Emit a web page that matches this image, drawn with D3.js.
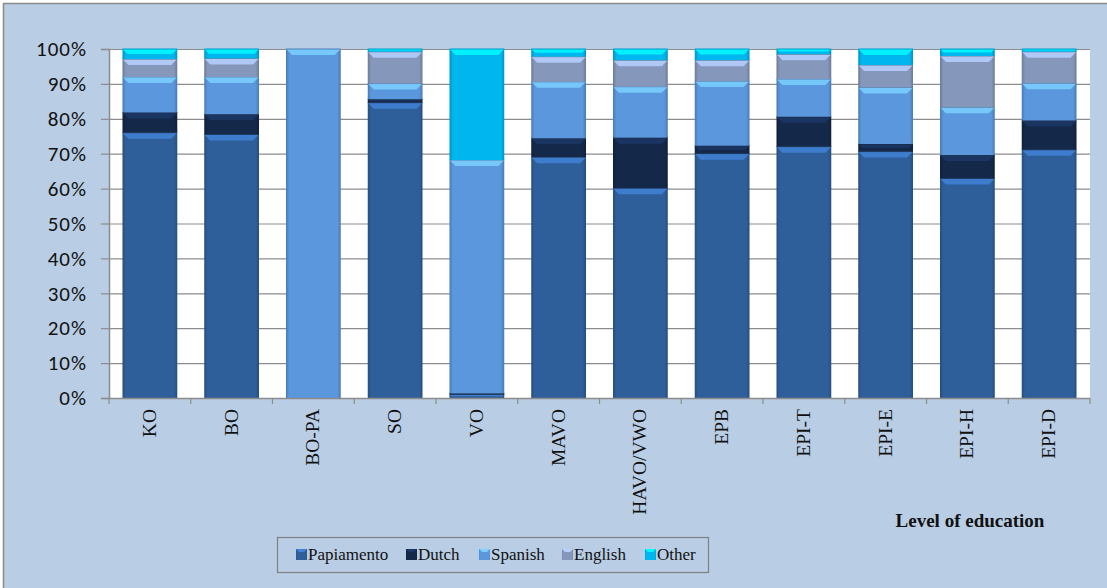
<!DOCTYPE html>
<html>
<head>
<meta charset="utf-8">
<script src="https://cdn.jsdelivr.net/npm/d3@7"></script>
<style>
  body { margin: 0; background: #fff; }
  svg { display: block; }
</style>
</head>
<body>
<div id="chart"></div>
<script>
// Stacked 100% columns: language spoken per level of education

const levels = ["KO", "BO", "BO-PA", "SO", "VO", "MAVO", "HAVO/VWO", "EPB", "EPI-T", "EPI-E", "EPI-H", "EPI-D"];
const languages = ["Papiamento", "Dutch", "Spanish", "English", "Other"];

// percentages per level
const papiamento = [76, 75.5, 0, 84.6, 1, 69, 60.1, 70, 72, 70.6, 62.9, 71.1];
const dutch      = [5.8, 5.8, 0, 1, 0.3, 5.4, 14.5, 2.3, 8.6, 2.2, 6.7, 8.4];
const spanish    = [10.2, 10.7, 100, 4.5, 66.9, 16.2, 14.6, 18.5, 10.8, 16.2, 13.7, 10.7];
const english    = [5.1, 5.3, 0, 9.1, 0, 7.2, 7.6, 6, 7.1, 6.4, 14.7, 9];
const other      = [2.9, 2.7, 0, 0.8, 31.8, 2.2, 3.2, 3.2, 1.5, 4.6, 2, 0.8];

const yTicks = [0, 10, 20, 30, 40, 50, 60, 70, 80, 90, 100];
const colors = ["#2f5f9b", "#14284a", "#5b97dc", "#8597ba", "#00b6ee"];

const W = 1107, H = 588;
const plot = {left: 109, right: 1090, top: 49, bottom: 398};

const svg = d3.select("#chart").append("svg")
    .attr("width", W)
    .attr("height", H);

// chart area background + border
svg.append("rect")
    .attr("x", 3.5).attr("y", 3.5)
    .attr("width", W + 10).attr("height", H + 10)
    .attr("fill", "#b9cde5")
    .attr("stroke", "#8a8a8a")
    .attr("stroke-width", 1.5);

svg.append("rect")
    .attr("x", plot.left).attr("y", plot.top)
    .attr("width", plot.right - plot.left)
    .attr("height", plot.bottom - plot.top)
    .attr("fill", "#ffffff");

// build stacked table
let table = levels.map((lv, i) => ({
    level: lv,
    Papiamento: papiamento[i],
    Dutch: dutch[i],
    Spanish: spanish[i],
    English: english[i],
    Other: other[i]
}));
let series = d3.stack().keys(languages)(table);

let x = d3.scaleBand()
    .domain(levels)
    .range([plot.left, plot.right])
    .paddingInner(0.33)
    .paddingOuter(0.165);
let y = d3.scaleLinear()
    .domain([0, 100])
    .range([plot.bottom, plot.top]);

// gridlines
svg.append("g")
    .attr("class", "grid")
    .selectAll("line")
    .data(yTicks)
    .enter().append("line")
    .attr("x1", plot.left).attr("x2", plot.right)
    .attr("y1", d => y(d) + 0.5).attr("y2", d => y(d) + 0.5)
    .attr("stroke", "#8c8c8c")
    .attr("stroke-width", 1.2);

// gradients for the glossy look
let defs = svg.append("defs");
colors.forEach((c, i) => {
    let g = defs.append("linearGradient")
        .attr("id", "grad" + i)
        .attr("x1", "0").attr("x2", "1").attr("y1", "0").attr("y2", "0");
    let base = d3.color(c);
    g.append("stop").attr("offset", "0%").attr("stop-color", base.darker(0.6));
    g.append("stop").attr("offset", "6%").attr("stop-color", base);
    g.append("stop").attr("offset", "94%").attr("stop-color", base);
    g.append("stop").attr("offset", "100%").attr("stop-color", base.darker(0.6));
});

let bars = svg.append("g").attr("class", "bars");

series.forEach((s, si) => {
    let grp = bars.append("g");
    let segs = s.map((d, i) => ({lo: d[0], hi: d[1], level: levels[i]}))
                .filter(d => d.hi - d.lo > 0.05);

    grp.selectAll("rect")
        .data(segs)
        .enter().append("rect")
        .attr("x", d => x(d.level))
        .attr("width", x.bandwidth())
        .attr("y", d => y(d.hi))
        .attr("height", d => y(d.lo) - y(d.hi))
        .attr("fill", "url(#grad" + si + ")");

    // top bevel highlight
    grp.selectAll("path")
        .data(segs)
        .enter().append("path")
        .attr("d", d => {
            let x0 = x(d.level), x1 = x0 + x.bandwidth();
            let t = y(d.hi);
            let h = Math.min(6, (y(d.lo) - y(d.hi)) * 0.5);
            return "M" + x0 + "," + t + "L" + x1 + "," + t +
                   "L" + (x1 - h) + "," + (t + h) + "L" + (x0 + h) + "," + (t + h) + "Z";
        })
        .attr("fill", d3.color(colors[si]).brighter(0.9))
        .attr("opacity", 0.85);

    grp.selectAll("line")
        .data(segs)
        .enter().append("line")
        .attr("x1", d => x(d.level)).attr("x2", d => x(d.level) + x.bandwidth())
        .attr("y1", d => y(d.hi)).attr("y2", d => y(d.hi))
        .attr("stroke", d3.color(colors[si]).darker(0.5))
        .attr("stroke-width", 1);
});

// Y axis
let yAxis = svg.append("g")
    .attr("transform", "translate(" + plot.left + ",0)")
    .call(d3.axisLeft(y)
        .tickValues(yTicks)
        .tickSize(8)
        .tickPadding(14)
        .tickFormat(d => d + "%"));
yAxis.select(".domain").attr("stroke", "#8c8c8c").attr("stroke-width", 1.5);
yAxis.selectAll(".tick line").attr("stroke", "#8c8c8c").attr("stroke-width", 1.2);
yAxis.selectAll("text")
    .attr("font-family", "Carlito, Lato, sans-serif")
    .attr("font-size", "21px")
    .attr("letter-spacing", "1px")
    .attr("fill", "#111");

// X axis line + ticks at band edges
let xAxis = svg.append("g").attr("transform", "translate(0," + plot.bottom + ")");
xAxis.append("line")
    .attr("x1", plot.left).attr("x2", plot.right)
    .attr("y1", 0.5).attr("y2", 0.5)
    .attr("stroke", "#8c8c8c").attr("stroke-width", 1.5);
xAxis.selectAll(".edge")
    .data(d3.range(levels.length + 1))
    .enter().append("line")
    .attr("class", "edge")
    .attr("x1", i => plot.left + i * x.step()).attr("x2", i => plot.left + i * x.step())
    .attr("y1", 0).attr("y2", 6)
    .attr("stroke", "#8c8c8c").attr("stroke-width", 1.2);

xAxis.selectAll(".lbl")
    .data(levels)
    .enter().append("text")
    .attr("class", "lbl")
    .attr("transform", d => "translate(" + (x(d) + x.bandwidth() / 2 + 6) + ",11) rotate(-90)")
    .attr("text-anchor", "end")
    .attr("font-family", "'Liberation Serif', 'Times New Roman', serif")
    .attr("font-size", "19.5px")
    .attr("fill", "#111")
    .text(d => d);

// axis title
svg.append("text")
    .attr("x", 970)
    .attr("y", 527)
    .attr("text-anchor", "middle")
    .attr("font-family", "'Liberation Serif', 'Times New Roman', serif")
    .attr("font-weight", "bold")
    .attr("font-size", "19px")
    .attr("fill", "#111")
    .text("Level of education");

// legend
let legend = svg.append("g");
legend.append("rect")
    .attr("x", 277.5).attr("y", 537.5)
    .attr("width", 431).attr("height", 35)
    .attr("fill", "none")
    .attr("stroke", "#808080")
    .attr("stroke-width", 1.2);

const legendX = [296, 406, 479, 562, 645];
languages.forEach((lang, i) => {
    let item = legend.append("g").attr("transform", "translate(" + legendX[i] + ",549)");
    item.append("rect")
        .attr("width", 11).attr("height", 11)
        .attr("fill", "url(#grad" + i + ")");
    item.append("path")
        .attr("d", "M0,0L11,0L8,3L3,3Z")
        .attr("fill", d3.color(colors[i]).brighter(0.9));
    item.append("text")
        .attr("x", 12)
        .attr("y", 11)
        .attr("font-family", "'Liberation Serif', 'Times New Roman', serif")
        .attr("font-size", "17px")
        .attr("fill", "#111")
        .text(lang);
});
</script>
</body>
</html>
